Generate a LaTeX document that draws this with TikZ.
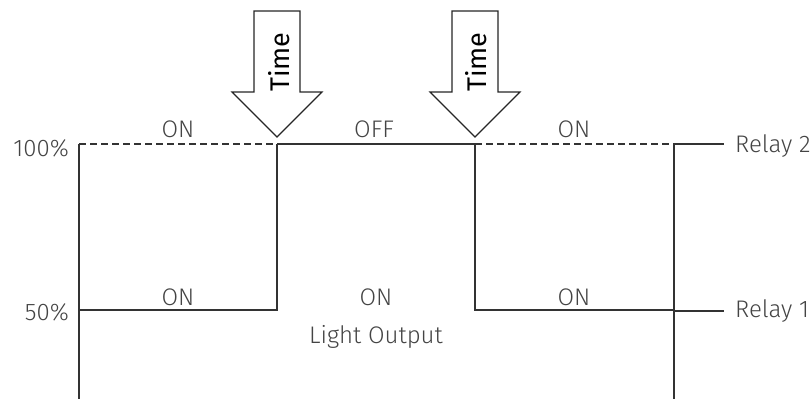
\documentclass[tikz,border=0pt]{standalone}
\usepackage{fontspec}
\setmainfont{Fira Sans Light}
\newfontfamily\timefont{Fira Sans}
\definecolor{linec}{HTML}{333333}
\definecolor{textc}{HTML}{444444}
\begin{document}
\begin{tikzpicture}[x=1pt,y=-1pt,
  wave/.style={draw=linec,line width=1.1pt},
  dashwave/.style={draw=linec,line width=1.1pt,dash pattern=on 7pt off 4pt},
  lbl/.style={text=textc,font=\fontsize{24}{28}\selectfont,inner sep=0pt},
  timearrow/.style={draw=black!85,line width=1.1pt,fill=white},
  timelbl/.style={text=black,font=\timefont\fontsize{27}{30}\selectfont,inner sep=0pt,rotate=90}]
\useasboundingbox (0,0) rectangle (810,399);
% coordinates
\coordinate (a0) at (79,144);
\coordinate (a1) at (277,144);
\coordinate (a2) at (475,144);
\coordinate (a3) at (674,144);
\coordinate (r2) at (724,144);
\coordinate (b0) at (79,310);
\coordinate (b1) at (277,310);
\coordinate (b2) at (475,310);
\coordinate (b3) at (674,310);
\coordinate (r1) at (724,311);
\coordinate (r1s) at (674,311);
\coordinate (bot0) at (79,399);
\coordinate (bot3) at (674,399);
% waveform
\draw[dashwave] (a0) -- (a1);
\draw[wave] (a1) -- (a2);
\draw[dashwave] (a2) -- (a3);
\draw[wave] (a3) -- (r2);
\draw[wave] (a0) -- (bot0);
\draw[wave] (a3) -- (bot3);
\draw[wave] (b0) -- (b1) -- (a1);
\draw[wave] (a2) -- (b2) -- (b3);
\draw[wave] (r1s) -- (r1);
% time arrows
\draw[timearrow] (254,11) -- (300,11) -- (300,92) -- (322,92) -- (277,137) -- (232,92) -- (254,92) -- cycle;
\draw[timearrow] (452,11) -- (498,11) -- (498,92) -- (520,92) -- (475,137) -- (430,92) -- (452,92) -- cycle;
\node[timelbl] (t1) at (279,62) {Time};
\node[timelbl] (t2) at (476,62) {Time};
% labels
\node[lbl,anchor=base east] (p100) at (69,156) {100\%};
\node[lbl,anchor=base east] (p50) at (69,320) {50\%};
\node[lbl,anchor=base] (on1) at (178,137) {ON};
\node[lbl,anchor=base] (off) at (374,137) {OFF};
\node[lbl,anchor=base] (on2) at (574,137) {ON};
\node[lbl,anchor=base] (on3) at (178,305) {ON};
\node[lbl,anchor=base] (on4) at (376,305) {ON};
\node[lbl,anchor=base] (on5) at (574,305) {ON};
\node[lbl,anchor=base] (lo) at (376,343) {Light Output};
\node[lbl,anchor=base west] (rel2) at (735,152) {Relay 2};
\node[lbl,anchor=base west] (rel1) at (735,317) {Relay 1};
\end{tikzpicture}
\end{document}
